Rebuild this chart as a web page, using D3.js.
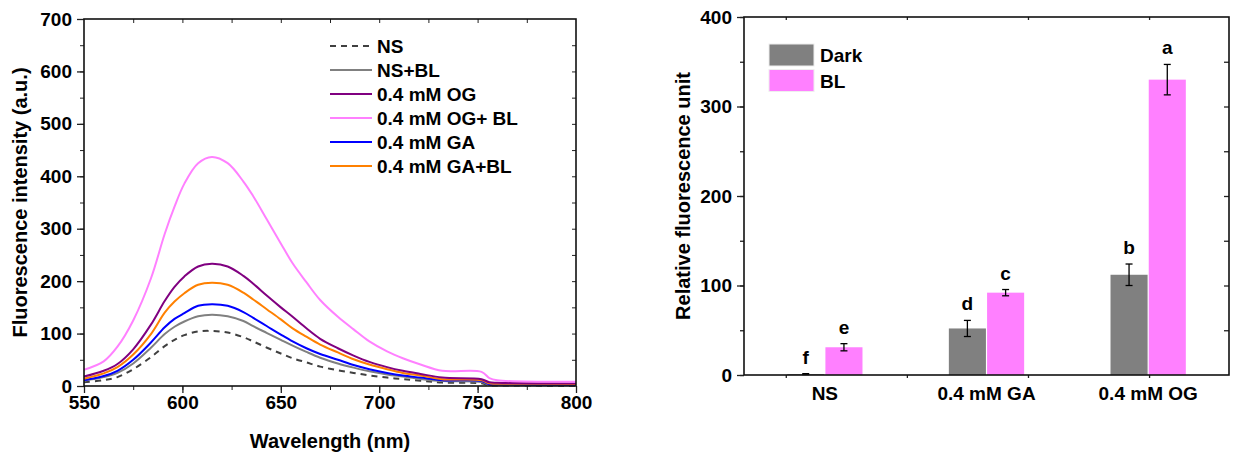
<!DOCTYPE html>
<html>
<head>
<meta charset="utf-8">
<script src="https://cdn.jsdelivr.net/npm/d3@7/dist/d3.min.js"></script>
<style>
  body { margin: 0; background: #fff; }
  svg text { font-family: "Liberation Sans", Arial, sans-serif; font-weight: bold; fill: #000; }
</style>
</head>
<body>
<div id="chart-area"></div>
<script>
// ---- left panel: emission spectra ----
const wavelengths = [550, 560, 567, 575, 584, 591, 596, 601, 608, 615, 623, 631, 636, 643, 650, 656, 663, 670, 679, 687, 695, 704, 712, 721, 732, 752, 756, 760, 800];
const ns    = [7, 11, 17, 32, 55, 76, 88, 97, 104, 105, 102, 93, 85, 73, 62, 53, 45, 37, 30, 25, 20, 16, 13, 10, 6.5, 5, 1.3, 1, 0.6];
const nsBL  = [10, 17, 25, 43, 73, 99, 113, 123, 133, 136, 133, 124, 114, 101, 88, 77, 65, 54, 43, 35, 28, 22, 18, 13.5, 9.5, 7.5, 2.5, 2.2, 2];
const og    = [18, 29, 42, 70, 117, 162, 189, 209, 228, 233, 228, 210, 195, 172, 150, 132, 110, 90, 72, 58, 46, 36, 29, 23, 16, 13, 7, 6, 5];
const ogBL  = [31, 47, 75, 125, 205, 290, 342, 386, 425, 437, 425, 390, 362, 317, 272, 234, 198, 164, 132, 108, 85, 66, 53, 41, 29, 27, 15, 11, 8];
const ga    = [11, 19, 29, 50, 83, 112, 128, 139, 153, 156, 153, 141, 130, 114, 98, 85, 72, 61, 50, 40, 32, 25, 20, 16, 11, 9.5, 3, 2.7, 2.5];
const gaBL  = [14, 24, 36, 60, 99, 140, 161, 177, 193, 197, 193, 178, 165, 146, 127, 110, 94, 79, 64, 51, 41, 32, 25, 20, 13, 11, 5, 4.5, 4];

const seriesNames  = ["NS", "NS+BL", "0.4 mM OG", "0.4 mM OG+ BL", "0.4 mM GA", "0.4 mM GA+BL"];
const seriesValues = [ns, nsBL, og, ogBL, ga, gaBL];
const seriesColors = ["#404040", "#808080", "#800080", "#FF80FF", "#0000FF", "#FF8000"];
const seriesDash   = ["6,5", null, null, null, null, null];

const xTicksNm = [550, 600, 650, 700, 750, 800];
const yTicksInt = [0, 100, 200, 300, 400, 500, 600, 700];

// ---- right panel: bar chart ----
const groups      = ["NS", "0.4 mM GA", "0.4 mM OG"];
const conditions  = ["Dark", "BL"];
const darkVals    = [1, 52, 112];
const darkErr     = [0.5, 9, 12];
const blVals      = [31, 92, 330];
const blErr       = [4, 3.5, 17];
const darkLetters = ["f", "d", "b"];
const blLetters   = ["e", "c", "a"];
const barColors   = ["#808080", "#FF80FF"];
const yTicksRel   = [0, 100, 200, 300, 400];

const W = 1233, H = 459;
const svg = d3.select("#chart-area").append("svg")
    .attr("width", W).attr("height", H);

const FS = 19;

// ===== left panel =====
const L = {left: 84, right: 576, top: 19, bottom: 386};
const x = d3.scaleLinear().domain([550, 800]).range([L.left, L.right]);
const y = d3.scaleLinear().domain([0, 700]).range([L.bottom, L.top]);

const gl = svg.append("g");

const lineGen = vals => d3.line()
    .x((d, i) => x(wavelengths[i]))
    .y(d => y(d))
    .curve(d3.curveCatmullRom.alpha(0.5))(vals);

// draw order: NS first, then others
[0, 1, 4, 5, 2, 3].forEach(function(k){
    gl.append("path")
      .attr("d", lineGen(seriesValues[k]))
      .attr("fill", "none")
      .attr("stroke", seriesColors[k])
      .attr("stroke-width", 2)
      .attr("stroke-dasharray", seriesDash[k]);
});

// frame ticks
function minorTicks(g, axis){ g.call(axis); g.select(".domain").remove(); g.selectAll("text").remove(); }

gl.append("g").attr("transform", `translate(0,${L.bottom})`)
  .call(g => minorTicks(g, d3.axisBottom(x).tickValues(d3.range(550, 801, 25)).tickSize(4)));
gl.append("g").attr("transform", `translate(0,${L.top})`)
  .call(g => minorTicks(g, d3.axisBottom(x).tickValues(d3.range(575, 800, 25)).tickSize(4)));
gl.append("g").attr("transform", `translate(${L.left},0)`)
  .call(g => minorTicks(g, d3.axisLeft(y).tickValues(d3.range(0, 701, 50)).tickSize(4)));
gl.append("g").attr("transform", `translate(${L.right},0)`)
  .call(g => minorTicks(g, d3.axisRight(y).tickValues(d3.range(50, 700, 50)).tickSize(-4)));

const xAxisL = gl.append("g").attr("transform", `translate(0,${L.bottom})`)
  .call(d3.axisBottom(x).tickValues(xTicksNm).tickSize(7).tickPadding(3));
const yAxisL = gl.append("g").attr("transform", `translate(${L.left},0)`)
  .call(d3.axisLeft(y).tickValues(yTicksInt).tickSize(7).tickPadding(5));
[xAxisL, yAxisL].forEach(a => {
    a.select(".domain").remove();
    a.selectAll("text").attr("font-size", FS).attr("font-family", null);
    a.selectAll("line").attr("stroke-width", 1.3);
});
gl.selectAll(".tick line").attr("stroke", "#222");

gl.append("rect")
  .attr("x", L.left).attr("y", L.top)
  .attr("width", L.right - L.left).attr("height", L.bottom - L.top)
  .attr("fill", "none").attr("stroke", "#111").attr("stroke-width", 1.6);

gl.append("text")
  .attr("x", (L.left + L.right) / 2).attr("y", 448)
  .attr("text-anchor", "middle").attr("font-size", 20)
  .text("Wavelength (nm)");

gl.append("text")
  .attr("transform", `translate(27,${(L.top + L.bottom) / 2}) rotate(-90)`)
  .attr("text-anchor", "middle").attr("font-size", 20)
  .text("Fluorescence intensity (a.u.)");

// legend
const legL = gl.append("g");
seriesNames.forEach(function(name, k){
    const cy = 46 + k * 24;
    legL.append("line")
        .attr("x1", 330).attr("x2", 372).attr("y1", cy).attr("y2", cy)
        .attr("stroke", seriesColors[k]).attr("stroke-width", 2)
        .attr("stroke-dasharray", seriesDash[k]);
    legL.append("text")
        .attr("x", 377).attr("y", cy + 7)
        .attr("font-size", FS)
        .text(name);
});

// ===== right panel =====
const R = {left: 744, right: 1229, top: 17, bottom: 375};
const x0 = d3.scaleBand().domain(groups).range([R.left, R.right])
    .paddingInner(0.52).paddingOuter(0.26);
const x1 = d3.scaleBand().domain(conditions).range([0, x0.bandwidth()]).padding(0.03);
const yR = d3.scaleLinear().domain([0, 400]).range([R.bottom, R.top]);
const xMinor = d3.scaleLinear().domain([0.655, 4.66]).range([R.left, R.right]);

const gr = svg.append("g");

const barData = [];
groups.forEach(function(gname, i){
    barData.push({group: gname, cond: "Dark", v: darkVals[i], e: darkErr[i], letter: darkLetters[i]});
    barData.push({group: gname, cond: "BL", v: blVals[i], e: blErr[i], letter: blLetters[i]});
});

gr.selectAll("rect.bar")
  .data(barData).enter().append("rect")
  .attr("class", "bar")
  .attr("x", d => x0(d.group) + x1(d.cond))
  .attr("y", d => yR(d.v))
  .attr("width", x1.bandwidth())
  .attr("height", d => yR(0) - yR(d.v))
  .attr("fill", d => barColors[conditions.indexOf(d.cond)]);

// error bars
const eb = gr.selectAll("g.err").data(barData).enter().append("g")
  .attr("class", "err")
  .attr("transform", d => `translate(${x0(d.group) + x1(d.cond) + x1.bandwidth() / 2},0)`);
eb.append("line").attr("x1", 0).attr("x2", 0)
  .attr("y1", d => yR(d.v + d.e)).attr("y2", d => yR(d.v - d.e))
  .attr("stroke", "#000").attr("stroke-width", 1.3);
eb.append("line").attr("x1", -3.5).attr("x2", 3.5)
  .attr("y1", d => yR(d.v + d.e)).attr("y2", d => yR(d.v + d.e))
  .attr("stroke", "#000").attr("stroke-width", 1.3);
eb.append("line").attr("x1", -3.5).attr("x2", 3.5)
  .attr("y1", d => yR(d.v - d.e)).attr("y2", d => yR(d.v - d.e))
  .attr("stroke", "#000").attr("stroke-width", 1.3);
eb.append("text")
  .attr("x", 0).attr("y", d => yR(d.v + d.e) - 10)
  .attr("text-anchor", "middle").attr("font-size", FS)
  .text(d => d.letter);

// ticks on frame
gr.append("g").attr("transform", `translate(${R.left},0)`)
  .call(g => minorTicks(g, d3.axisLeft(yR).tickValues(d3.range(0, 401, 50)).tickSize(4)));
gr.append("g").attr("transform", `translate(${R.right},0)`)
  .call(g => minorTicks(g, d3.axisRight(yR).tickValues(d3.range(50, 400, 50)).tickSize(-5)));
gr.append("g").attr("transform", `translate(0,${R.top})`)
  .call(g => minorTicks(g, d3.axisBottom(xMinor).tickValues([1, 2, 3, 4]).tickSize(3)));
gr.append("g").attr("transform", `translate(0,${R.bottom})`)
  .call(g => minorTicks(g, d3.axisBottom(xMinor).tickValues([1, 2, 3, 4]).tickSize(3)));

const yAxisR = gr.append("g").attr("transform", `translate(${R.left},0)`)
  .call(d3.axisLeft(yR).tickValues(yTicksRel).tickSize(7).tickPadding(5));
yAxisR.select(".domain").remove();
yAxisR.selectAll("text").attr("font-size", FS).attr("font-family", null);

const xAxisR = gr.append("g").attr("transform", `translate(0,${R.bottom})`)
  .call(d3.axisBottom(x0).tickSize(0).tickPadding(12));
xAxisR.select(".domain").remove();
xAxisR.selectAll("text").attr("font-size", FS).attr("font-family", null);
gr.selectAll(".tick line").attr("stroke", "#222").attr("stroke-width", 1.3);

gr.append("rect")
  .attr("x", R.left).attr("y", R.top)
  .attr("width", R.right - R.left).attr("height", R.bottom - R.top)
  .attr("fill", "none").attr("stroke", "#111").attr("stroke-width", 1.6);

gr.append("text")
  .attr("transform", `translate(690,${(R.top + R.bottom) / 2}) rotate(-90)`)
  .attr("text-anchor", "middle").attr("font-size", 20)
  .text("Relative fluorescence unit");

// legend
conditions.forEach(function(c, k){
    const top = 44 + k * 25.5;
    gr.append("rect")
      .attr("x", 769).attr("y", top).attr("width", 45).attr("height", 22)
      .attr("fill", barColors[k]).attr("stroke", "#eee").attr("stroke-width", 1);
    gr.append("text")
      .attr("x", 820).attr("y", top + 18)
      .attr("font-size", FS)
      .text(c);
});
</script>
</body>
</html>
